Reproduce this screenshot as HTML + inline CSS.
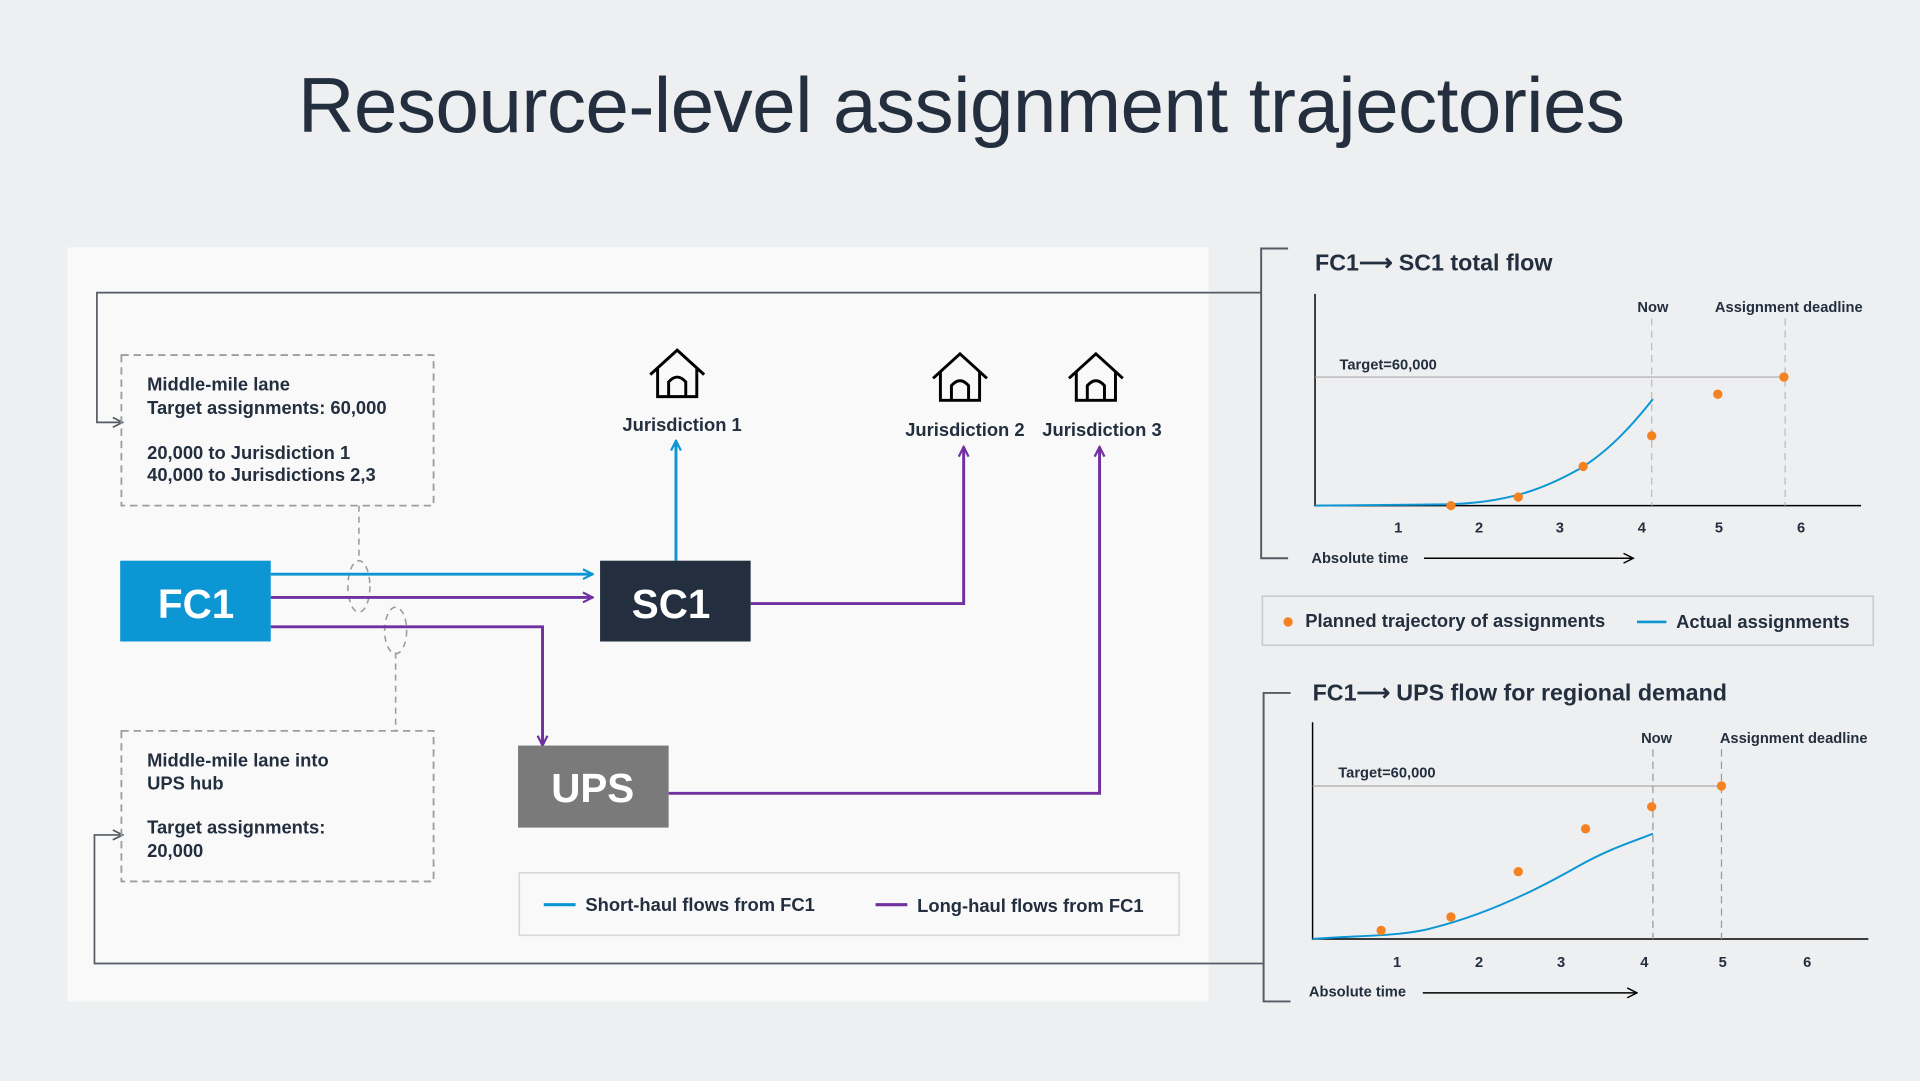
<!DOCTYPE html>
<html><head><meta charset="utf-8"><style>
html,body{margin:0;padding:0;background:#eeeff1;}
svg{display:block;}
text{font-family:"Liberation Sans",sans-serif;fill:#232f3e;}
.b{font-weight:bold;}
</style></head><body>
<svg width="1920" height="1081" viewBox="0 0 1568 883" xmlns="http://www.w3.org/2000/svg">
<defs>
<marker id="ab" viewBox="0 0 10 10" refX="9" refY="5" markerWidth="10" markerHeight="10" markerUnits="userSpaceOnUse" orient="auto"><path d="M1,1 L9,5 L1,9" fill="none" stroke="#0c97d4" stroke-width="1.8"/></marker>
<marker id="ap" viewBox="0 0 10 10" refX="9" refY="5" markerWidth="10" markerHeight="10" markerUnits="userSpaceOnUse" orient="auto"><path d="M1,1 L9,5 L1,9" fill="none" stroke="#7030a0" stroke-width="1.8"/></marker>
<marker id="ag" viewBox="0 0 10 10" refX="9" refY="5" markerWidth="10" markerHeight="10" markerUnits="userSpaceOnUse" orient="auto"><path d="M1,1 L9,5 L1,9" fill="none" stroke="#545b64" stroke-width="1.4"/></marker>
<marker id="ak" viewBox="0 0 10 10" refX="9" refY="5" markerWidth="10" markerHeight="10" markerUnits="userSpaceOnUse" orient="auto"><path d="M1,1 L9,5 L1,9" fill="none" stroke="#000" stroke-width="1.2"/></marker>
<g id="house"><path d="M-22,-2 L0,-22 L22,-2 M-16,-7 V16 H16 V-7 M-7,16 V4 Q0,-4 7,4 V16" fill="none" stroke="#000" stroke-width="2.4"/></g>
</defs>
<rect width="1568" height="883" fill="#eeeff1"/>
<text x="785" y="108" text-anchor="middle" font-size="64" style="font-weight:300" fill="#232f3e" letter-spacing="-0.5">Resource-level assignment trajectories</text>
<rect x="55" y="202" width="932" height="616" fill="#f9f9f9"/>

<!-- connectors to charts -->
<path d="M1030,239 H79 V345 H100" fill="none" stroke="#545b64" stroke-width="1.4" marker-end="url(#ag)"/>
<path d="M1032,787 H77 V682 H100" fill="none" stroke="#545b64" stroke-width="1.4" marker-end="url(#ag)"/>

<!-- dashed boxes -->
<rect x="99" y="290" width="255" height="123" fill="none" stroke="#9a9ea4" stroke-width="1.5" stroke-dasharray="6,4"/>
<text class="b" font-size="15"><tspan x="120" y="319">Middle-mile lane</tspan><tspan x="120" y="338">Target assignments: 60,000</tspan><tspan x="120" y="375">20,000 to Jurisdiction 1</tspan><tspan x="120" y="393">40,000 to Jurisdictions 2,3</tspan></text>
<rect x="99" y="597" width="255" height="123" fill="none" stroke="#9a9ea4" stroke-width="1.5" stroke-dasharray="6,4"/>
<text class="b" font-size="15"><tspan x="120" y="626">Middle-mile lane into</tspan><tspan x="120" y="645">UPS hub</tspan><tspan x="120" y="681">Target assignments:</tspan><tspan x="120" y="700">20,000</tspan></text>
<path d="M293,413 V458 M323,533 V597" stroke="#9a9ea4" stroke-width="1.3" stroke-dasharray="5,4"/>
<ellipse cx="293" cy="479" rx="9" ry="21" fill="none" stroke="#9a9ea4" stroke-width="1.3" stroke-dasharray="5,4"/>
<ellipse cx="323" cy="515" rx="9" ry="19" fill="none" stroke="#9a9ea4" stroke-width="1.3" stroke-dasharray="5,4"/>

<!-- flows -->
<path d="M221,469 H484" stroke="#0c97d4" stroke-width="2.4" marker-end="url(#ab)"/>
<path d="M221,488 H484" stroke="#7030a0" stroke-width="2.4" marker-end="url(#ap)"/>
<path d="M221,512 H443 V609" fill="none" stroke="#7030a0" stroke-width="2.4" marker-end="url(#ap)"/>
<path d="M552,458 V360" stroke="#0c97d4" stroke-width="2.4" marker-end="url(#ab)"/>
<path d="M613,493 H787 V365" fill="none" stroke="#7030a0" stroke-width="2.4" marker-end="url(#ap)"/>
<path d="M546,648 H898 V365" fill="none" stroke="#7030a0" stroke-width="2.4" marker-end="url(#ap)"/>

<!-- nodes -->
<rect x="98" y="458" width="123" height="66" fill="#0c97d4"/>
<text x="160" y="505" text-anchor="middle" class="b" font-size="33" style="fill:#fff">FC1</text>
<rect x="490" y="458" width="123" height="66" fill="#232f3e"/>
<text x="548" y="505" text-anchor="middle" class="b" font-size="33" style="fill:#fff">SC1</text>
<rect x="423" y="609" width="123" height="67" fill="#7a7a7a"/>
<text x="484" y="655" text-anchor="middle" class="b" font-size="33" style="fill:#fff">UPS</text>

<use href="#house" x="553" y="308"/>
<text x="557" y="352" text-anchor="middle" class="b" font-size="15">Jurisdiction 1</text>
<use href="#house" x="784" y="311"/>
<text x="788" y="356" text-anchor="middle" class="b" font-size="15">Jurisdiction 2</text>
<use href="#house" x="895" y="311"/>
<text x="900" y="356" text-anchor="middle" class="b" font-size="15">Jurisdiction 3</text>

<!-- legend -->
<rect x="424" y="713" width="539" height="51" fill="none" stroke="#d5d8dc" stroke-width="1.3"/>
<path d="M444,739 H470" stroke="#0c97d4" stroke-width="2.6"/>
<text x="478" y="744" class="b" font-size="15">Short-haul flows from FC1</text>
<path d="M715,739 H741" stroke="#7030a0" stroke-width="2.6"/>
<text x="749" y="745" class="b" font-size="15">Long-haul flows from FC1</text>

<!-- chart 1 -->
<path d="M1052,203 H1030 V456 H1052" fill="none" stroke="#545b64" stroke-width="1.6"/>
<text x="1074" y="221" class="b" font-size="19">FC1⟶ SC1 total flow</text>
<path d="M1074,240 V413 H1520" fill="none" stroke="#000" stroke-width="1.2"/>
<path d="M1074,308 H1458" stroke="#aaa" stroke-width="1"/>
<path d="M1349,260 V413 M1458,260 V413" stroke="#bbb" stroke-width="1" stroke-dasharray="6,4"/>
<text x="1350" y="255" text-anchor="middle" class="b" font-size="12">Now</text>
<text x="1461" y="255" text-anchor="middle" class="b" font-size="12">Assignment deadline</text>
<text x="1094" y="302" class="b" font-size="12">Target=60,000</text>
<path d="M1074,413 L1180,412 C1230,411 1260,400 1290,383 C1315,368 1335,345 1350,326" fill="none" stroke="#0c97d4" stroke-width="1.6"/>
<g fill="#f58220"><circle cx="1185" cy="413" r="3.8"/><circle cx="1240" cy="406" r="3.8"/><circle cx="1293" cy="381" r="3.8"/><circle cx="1349" cy="356" r="3.8"/><circle cx="1403" cy="322" r="3.8"/><circle cx="1457" cy="308" r="3.8"/></g>
<g class="b" font-size="12" text-anchor="middle"><text x="1142" y="435">1</text><text x="1208" y="435">2</text><text x="1274" y="435">3</text><text x="1341" y="435">4</text><text x="1404" y="435">5</text><text x="1471" y="435">6</text></g>
<text x="1071" y="460" class="b" font-size="12">Absolute time</text>
<path d="M1163,456 H1334" stroke="#000" stroke-width="1.2" marker-end="url(#ak)"/>

<!-- chart legend -->
<rect x="1031" y="487" width="499" height="40" fill="none" stroke="#c8cbd0" stroke-width="1.3"/>
<circle cx="1052" cy="508" r="3.8" fill="#f58220"/>
<text x="1066" y="512" class="b" font-size="15">Planned trajectory of assignments</text>
<path d="M1337,508 H1361" stroke="#0c97d4" stroke-width="2.2"/>
<text x="1369" y="513" class="b" font-size="15">Actual assignments</text>

<!-- chart 2 -->
<path d="M1054,566 H1032 V818 H1054" fill="none" stroke="#545b64" stroke-width="1.6"/>
<text x="1072" y="572" class="b" font-size="19">FC1⟶ UPS flow for regional demand</text>
<path d="M1072,590 V767 H1526" fill="none" stroke="#000" stroke-width="1.2"/>
<path d="M1072,642 H1406" stroke="#aaa" stroke-width="1"/>
<path d="M1350,612 V767 M1406,612 V767" stroke="#999" stroke-width="1" stroke-dasharray="6,4"/>
<text x="1353" y="607" text-anchor="middle" class="b" font-size="12">Now</text>
<text x="1465" y="607" text-anchor="middle" class="b" font-size="12">Assignment deadline</text>
<text x="1093" y="635" class="b" font-size="12">Target=60,000</text>
<path d="M1072,767 C1110,764 1145,765 1170,758 C1210,748 1250,730 1290,707 C1315,693 1335,687 1350,681" fill="none" stroke="#0c97d4" stroke-width="1.6"/>
<g fill="#f58220"><circle cx="1128" cy="760" r="3.8"/><circle cx="1185" cy="749" r="3.8"/><circle cx="1240" cy="712" r="3.8"/><circle cx="1295" cy="677" r="3.8"/><circle cx="1349" cy="659" r="3.8"/><circle cx="1406" cy="642" r="3.8"/></g>
<g class="b" font-size="12" text-anchor="middle"><text x="1141" y="790">1</text><text x="1208" y="790">2</text><text x="1275" y="790">3</text><text x="1343" y="790">4</text><text x="1407" y="790">5</text><text x="1476" y="790">6</text></g>
<text x="1069" y="814" class="b" font-size="12">Absolute time</text>
<path d="M1162,811 H1337" stroke="#000" stroke-width="1.2" marker-end="url(#ak)"/>
</svg>
</body></html>
